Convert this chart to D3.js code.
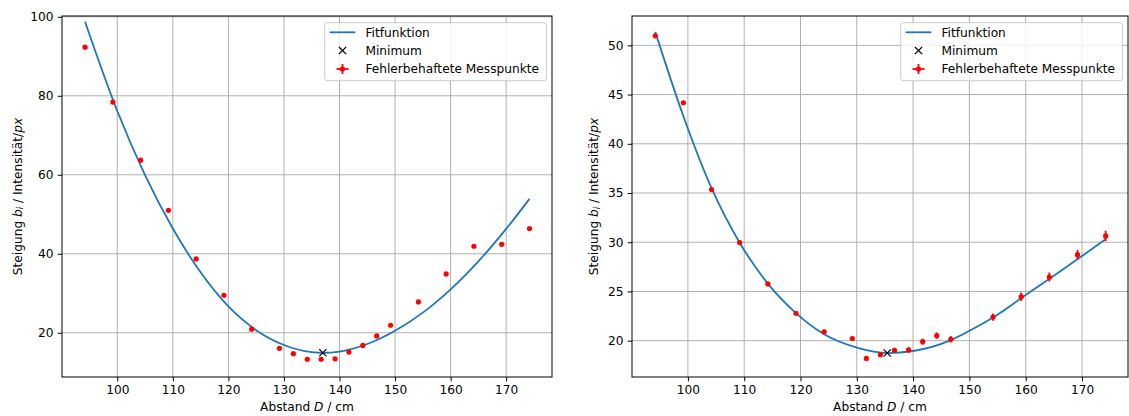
<!DOCTYPE html>
<html>
<head>
<meta charset="utf-8">
<script src="https://cdn.jsdelivr.net/npm/d3@7"></script>
<style>
  html, body { margin: 0; padding: 0; background: #ffffff; }
  svg { display: block; font-family: "DejaVu Sans", sans-serif; }
</style>
</head>
<body>
<svg id="chart" width="1129" height="416"></svg>
<script>
"use strict";

/********/
/* data */
/********/

// left panel: measured points
const abstandLinks = [94.2, 99.2, 104.2, 109.2, 114.2, 119.2, 124.2, 129.2, 131.7, 134.2, 136.7,
  139.2, 141.7, 144.2, 146.7, 149.2, 154.2, 159.2, 164.2, 169.2, 174.2];
const steigungLinks = [92.3, 78.4, 63.7, 51.0, 38.7, 29.5, 20.9, 16.05, 14.7, 13.3, 13.3,
  13.4, 15.1, 16.8, 19.2, 21.9, 27.8, 34.9, 41.9, 42.4, 46.4];
const fehlerLinks = [0.4, 0.4, 0.4, 0.4, 0.4, 0.4, 0.4, 0.4, 0.4, 0.4, 0.4,
  0.4, 0.4, 0.4, 0.4, 0.4, 0.4, 0.4, 0.4, 0.4, 0.4];

// left panel: fit curve
const fitAbstandLinks = [94.2, 100, 105, 110, 115, 120, 125, 130, 135, 137, 140, 145, 150,
  155, 160, 165, 170, 174.2];
const fitSteigungLinks = [98.75, 76.15, 59.9, 46.4, 35.3, 26.65, 20.65, 16.9, 15.1, 14.94,
  15.25, 17.15, 20.5, 25.1, 31.0, 38.1, 46.3, 53.9];
const minimumLinks = [137.0, 14.94];

// right panel: measured points
const abstandRechts = [94.2, 99.2, 104.2, 109.2, 114.2, 119.2, 124.2, 129.2, 131.7, 134.2,
  136.7, 139.2, 141.7, 144.2, 146.7, 154.2, 159.2, 164.2, 169.2, 174.2];
const steigungRechts = [50.97, 44.16, 35.35, 29.96, 25.76, 22.78, 20.9, 20.22, 18.2, 18.58,
  19.02, 19.06, 19.9, 20.51, 20.14, 22.4, 24.47, 26.47, 28.74, 30.64];
const fehlerRechts = [0.2, 0.2, 0.2, 0.2, 0.2, 0.2, 0.2, 0.2, 0.2, 0.22,
  0.25, 0.27, 0.3, 0.32, 0.33, 0.37, 0.43, 0.46, 0.48, 0.53];

// right panel: fit curve
const fitAbstandRechts = [94.2, 99.2, 104.2, 109.2, 114.2, 119.2, 124.2, 130, 135.4, 140,
  146.7, 150, 154.2, 160, 165, 170, 174.2];
const fitSteigungRechts = [51.37, 42.8, 35.5, 29.95, 25.8, 22.8, 20.65, 19.3, 18.75, 18.95,
  20.05, 21.0, 22.35, 24.64, 26.6, 28.6, 30.3];
const minimumRechts = [135.4, 18.75];

const fehlerAbstand = 0.1;

const xTicks = [100, 110, 120, 130, 140, 150, 160, 170];
const yTicksLinks = [20, 40, 60, 80, 100];
const yTicksRechts = [20, 25, 30, 35, 40, 45, 50];

const legendLabels = ["Fitfunktion", "Minimum", "Fehlerbehaftete Messpunkte"];

/*********/
/* style */
/*********/

const fontSize = 12.2;
const blue = "#1f77b4";
const red = "#ff0000";
const gridColour = "#b0b0b0";

const svg = d3.select("#chart");

/********/
/* view */
/********/

function panelView(panel) {
  const g = svg.append("g");

  const x = d3.scaleLinear().domain(panel.xDomain).range([panel.left, panel.right]);
  const y = d3.scaleLinear().domain(panel.yDomain).range([panel.bottom, panel.top]);

  // grid
  g.append("g")
    .selectAll("line")
    .data(xTicks)
    .join("line")
    .attr("x1", d => x(d))
    .attr("x2", d => x(d))
    .attr("y1", panel.top)
    .attr("y2", panel.bottom)
    .attr("stroke", gridColour)
    .attr("stroke-width", 1);

  g.append("g")
    .selectAll("line")
    .data(panel.yTicks)
    .join("line")
    .attr("x1", panel.left)
    .attr("x2", panel.right)
    .attr("y1", d => y(d))
    .attr("y2", d => y(d))
    .attr("stroke", gridColour)
    .attr("stroke-width", 1);

  // axes
  const xAxis = g
    .append("g")
    .attr("transform", `translate(0,${panel.bottom})`)
    .call(
      d3.axisBottom(x)
        .tickValues(xTicks)
        .tickSize(4.3)
        .tickPadding(4.3)
        .tickFormat(d3.format("d")),
    );

  const yAxis = g
    .append("g")
    .attr("transform", `translate(${panel.left},0)`)
    .call(
      d3.axisLeft(y)
        .tickValues(panel.yTicks)
        .tickSize(4.3)
        .tickPadding(4.3)
        .tickFormat(d3.format("d")),
    );

  [xAxis, yAxis].forEach(axis => {
    axis.select(".domain").remove();
    axis.selectAll(".tick line").attr("stroke", "#000").attr("stroke-width", 1);
    axis
      .selectAll(".tick text")
      .attr("fill", "#000")
      .attr("font-size", fontSize)
      .attr("font-family", "DejaVu Sans");
  });

  // fit curve
  const line = d3
    .line()
    .x(d => x(d[0]))
    .y(d => y(d[1]))
    .curve(d3.curveMonotoneX);

  g.append("path")
    .datum(d3.zip(panel.fitX, panel.fitY))
    .attr("d", line)
    .attr("fill", "none")
    .attr("stroke", blue)
    .attr("stroke-width", 1.8);

  // error bars and points
  const points = d3.zip(panel.abstand, panel.steigung, panel.fehler);

  const bars = g.append("g").attr("stroke", red).attr("stroke-width", 1.8);
  bars
    .selectAll(".ybar")
    .data(points)
    .join("line")
    .attr("x1", d => x(d[0]))
    .attr("x2", d => x(d[0]))
    .attr("y1", d => y(d[1] - d[2]))
    .attr("y2", d => y(d[1] + d[2]));
  bars
    .selectAll(".xbar")
    .data(points)
    .join("line")
    .attr("x1", d => x(d[0] - fehlerAbstand))
    .attr("x2", d => x(d[0] + fehlerAbstand))
    .attr("y1", d => y(d[1]))
    .attr("y2", d => y(d[1]));

  g.append("g")
    .selectAll("circle")
    .data(points)
    .join("circle")
    .attr("cx", d => x(d[0]))
    .attr("cy", d => y(d[1]))
    .attr("r", 2.6)
    .attr("fill", red);

  // minimum
  g.append("path")
    .attr("transform", `translate(${x(panel.minimum[0])},${y(panel.minimum[1])})`)
    .attr("d", "M-3.6,-3.6L3.6,3.6M-3.6,3.6L3.6,-3.6")
    .attr("stroke", "#000")
    .attr("stroke-width", 1.2);

  // spines
  g.append("rect")
    .attr("x", panel.left)
    .attr("y", panel.top)
    .attr("width", panel.right - panel.left)
    .attr("height", panel.bottom - panel.top)
    .attr("fill", "none")
    .attr("stroke", "#000")
    .attr("stroke-width", 1);

  // axis labels
  const xLabel = g
    .append("text")
    .attr("x", (panel.left + panel.right) / 2)
    .attr("y", 410.6)
    .attr("text-anchor", "middle")
    .attr("font-size", fontSize);
  xLabel.append("tspan").text("Abstand ");
  xLabel.append("tspan").attr("font-style", "italic").text("D");
  xLabel.append("tspan").text(" / cm");

  const cy = (panel.top + panel.bottom) / 2;
  const yLabel = g
    .append("text")
    .attr("transform", `translate(${panel.yLabelX},${cy}) rotate(-90)`)
    .attr("text-anchor", "middle")
    .attr("dominant-baseline", "central")
    .attr("font-size", fontSize);
  yLabel.append("tspan").text("Steigung ");
  yLabel.append("tspan").attr("font-style", "italic").text("b");
  yLabel
    .append("tspan")
    .attr("font-style", "italic")
    .attr("font-size", fontSize * 0.7)
    .attr("dy", 2.5)
    .text("i");
  yLabel.append("tspan").attr("dy", -2.5).text(" / Intensität/");
  yLabel.append("tspan").attr("font-style", "italic").text("px");

  legendView(g, panel.right - 5.6 - 221.7, panel.top + 6.7);
}

function legendView(g, left, top) {
  const legend = g.append("g").attr("transform", `translate(${left},${top})`);

  legend
    .append("rect")
    .attr("width", 221.7)
    .attr("height", 58)
    .attr("rx", 2.5)
    .attr("fill", "#ffffff")
    .attr("fill-opacity", 0.8)
    .attr("stroke", "#cccccc")
    .attr("stroke-width", 1);

  const rows = [9.6, 27.9, 46.3];
  const hx = 17.8;

  legend
    .append("line")
    .attr("x1", 5)
    .attr("x2", 30.7)
    .attr("y1", rows[0])
    .attr("y2", rows[0])
    .attr("stroke", blue)
    .attr("stroke-width", 1.8);

  legend
    .append("path")
    .attr("transform", `translate(${hx},${rows[1]})`)
    .attr("d", "M-3.6,-3.6L3.6,3.6M-3.6,3.6L3.6,-3.6")
    .attr("stroke", "#000")
    .attr("stroke-width", 1.2);

  const err = legend.append("g").attr("transform", `translate(${hx},${rows[2]})`);
  err.append("line").attr("x1", -6).attr("x2", 6).attr("stroke", red).attr("stroke-width", 1.8);
  err.append("line").attr("y1", -5).attr("y2", 5).attr("stroke", red).attr("stroke-width", 1.8);
  err.append("circle").attr("r", 2.6).attr("fill", red);

  legend
    .selectAll(".label")
    .data(legendLabels)
    .join("text")
    .attr("x", 40.7)
    .attr("y", (d, i) => rows[i] + 4.4)
    .attr("font-size", fontSize)
    .text(d => d);
}

/********/
/* init */
/********/

panelView({
  left: 62,
  right: 552,
  top: 16,
  bottom: 377,
  xDomain: [90.05, 178.25],
  yDomain: [8.8, 100.2],
  yTicks: yTicksLinks,
  yLabelX: 17.5,
  abstand: abstandLinks,
  steigung: steigungLinks,
  fehler: fehlerLinks,
  fitX: fitAbstandLinks,
  fitY: fitSteigungLinks,
  minimum: minimumLinks,
});

panelView({
  left: 632,
  right: 1128,
  top: 16,
  bottom: 377,
  xDomain: [90.07, 178.17],
  yDomain: [16.31, 52.98],
  yTicks: yTicksRechts,
  yLabelX: 594,
  abstand: abstandRechts,
  steigung: steigungRechts,
  fehler: fehlerRechts,
  fitX: fitAbstandRechts,
  fitY: fitSteigungRechts,
  minimum: minimumRechts,
});
</script>
</body>
</html>
